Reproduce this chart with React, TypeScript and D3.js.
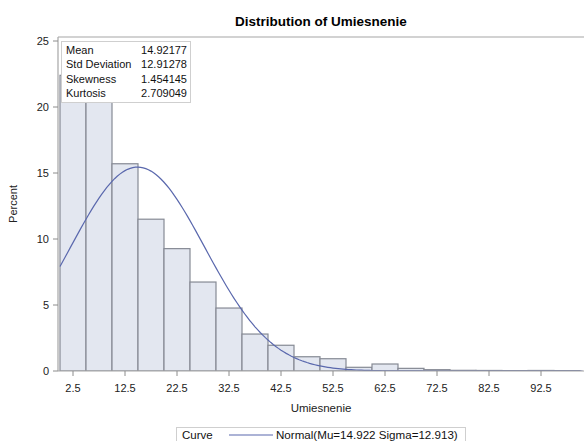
import React from "react";
import * as d3 from "d3";

// Histogram bins (left edges) and percentages
const binStarts = [0, 5, 10, 15, 20, 25, 30, 35, 40, 45, 50, 55, 60, 65, 70, 75, 80, 85, 90, 95];
const binPercents = [22.4, 21.6, 15.7, 11.5, 9.27, 6.74, 4.77, 2.8, 1.95, 1.08, 0.93, 0.28, 0.53, 0.2, 0.1, 0.05, 0.04, 0.03, 0.04, 0.03];
const binWidth = 5;

const xTicks = [2.5, 12.5, 22.5, 32.5, 42.5, 52.5, 62.5, 72.5, 82.5, 92.5];
const yTicks = [0, 5, 10, 15, 20, 25];

const statLabels = ["Mean", "Std Deviation", "Skewness", "Kurtosis"];
const statValues = ["14.92177", "12.91278", "1.454145", "2.709049"];

const mu = 14.92177;
const sigma = 12.91278;

const W = 584;
const H = 441;
const FONT = "'Liberation Sans', Arial, sans-serif";

export default function App() {
  const left = 58;
  const top = 37;
  const bottom = 371;
  const right = 584;

  const x = d3.scaleLinear().domain([0, 100]).range([60, 580]);
  const y = d3.scaleLinear().domain([0, 25]).range([371, 41]);

  const normalPct = (v: number) =>
    (100 * binWidth * Math.exp(-0.5 * ((v - mu) / sigma) ** 2)) / (sigma * Math.sqrt(2 * Math.PI));

  const curvePts = d3.range(0, 101, 0.5).map((v) => [v, normalPct(v)] as [number, number]);
  const line = d3
    .line<[number, number]>()
    .x((d) => x(d[0]))
    .y((d) => y(d[1]))
    .curve(d3.curveLinear);

  return (
    <svg
      width={W}
      height={H}
      style={{ position: "absolute", left: 0, top: 0, background: "#fff" }}
      fontFamily={FONT}
    >
      <defs>
        <clipPath id="plotClip">
          <rect x={left} y={top} width={right - left} height={bottom - top} />
        </clipPath>
      </defs>

      <text x={321} y={26} textAnchor="middle" fontSize={13.5} fontWeight="bold" fill="#000">
        Distribution of Umiesnenie
      </text>

      {/* bars */}
      <g clipPath="url(#plotClip)">
        {binStarts.map((s, i) => (
          <rect
            key={i}
            x={x(s)}
            y={y(binPercents[i])}
            width={x(s + binWidth) - x(s)}
            height={y(0) - y(binPercents[i])}
            fill="#e3e7f0"
            stroke="#868a94"
            strokeWidth={1.2}
          />
        ))}
        <path d={line(curvePts) || ""} fill="none" stroke="#5a68ad" strokeWidth={1.2} />
      </g>

      {/* frame */}
      <line x1={left} y1={top} x2={right} y2={top} stroke="#a6a6a6" strokeWidth={1.2} />
      <line x1={left} y1={top} x2={left} y2={bottom} stroke="#a6a6a6" strokeWidth={1.2} />
      <line x1={left} y1={bottom} x2={right} y2={bottom} stroke="#a6a6a6" strokeWidth={1.2} />

      {/* y axis */}
      {yTicks.map((t) => (
        <g key={t}>
          <line x1={left - 5} x2={left} y1={y(t)} y2={y(t)} stroke="#8c8c8c" />
          <text x={left - 9} y={y(t) + 4} textAnchor="end" fontSize={11} fill="#222">
            {t}
          </text>
        </g>
      ))}
      <text
        transform={`translate(17,${(top + bottom) / 2}) rotate(-90)`}
        textAnchor="middle"
        fontSize={11}
        fill="#222"
      >
        Percent
      </text>

      {/* x axis */}
      {xTicks.map((t) => (
        <g key={t}>
          <line x1={x(t)} x2={x(t)} y1={bottom} y2={bottom + 5} stroke="#8c8c8c" />
          <text x={x(t)} y={392} textAnchor="middle" fontSize={11} fill="#222">
            {t}
          </text>
        </g>
      ))}
      <text x={321} y={412} textAnchor="middle" fontSize={11.5} fill="#222">
        Umiesnenie
      </text>

      {/* stats inset */}
      <rect x={61.5} y={41.5} width={129} height={61} fill="#fff" stroke="#cfcfcf" />
      {statLabels.map((l, i) => (
        <g key={l}>
          <text x={66} y={54 + i * 14.3} fontSize={11} fill="#111">
            {l}
          </text>
          <text x={187} y={54 + i * 14.3} textAnchor="end" fontSize={11} fill="#111">
            {statValues[i]}
          </text>
        </g>
      ))}

      {/* legend */}
      <rect x={176.5} y={427.5} width={289} height={20} fill="#fff" stroke="#cfcfcf" />
      <text x={182} y={439} fontSize={11.5} fill="#111">
        Curve
      </text>
      <line x1={229} x2={273} y1={435} y2={435} stroke="#5a68ad" strokeWidth={1.2} />
      <text x={276} y={439} fontSize={11.6} fill="#111">
        Normal(Mu=14.922 Sigma=12.913)
      </text>
    </svg>
  );
}
